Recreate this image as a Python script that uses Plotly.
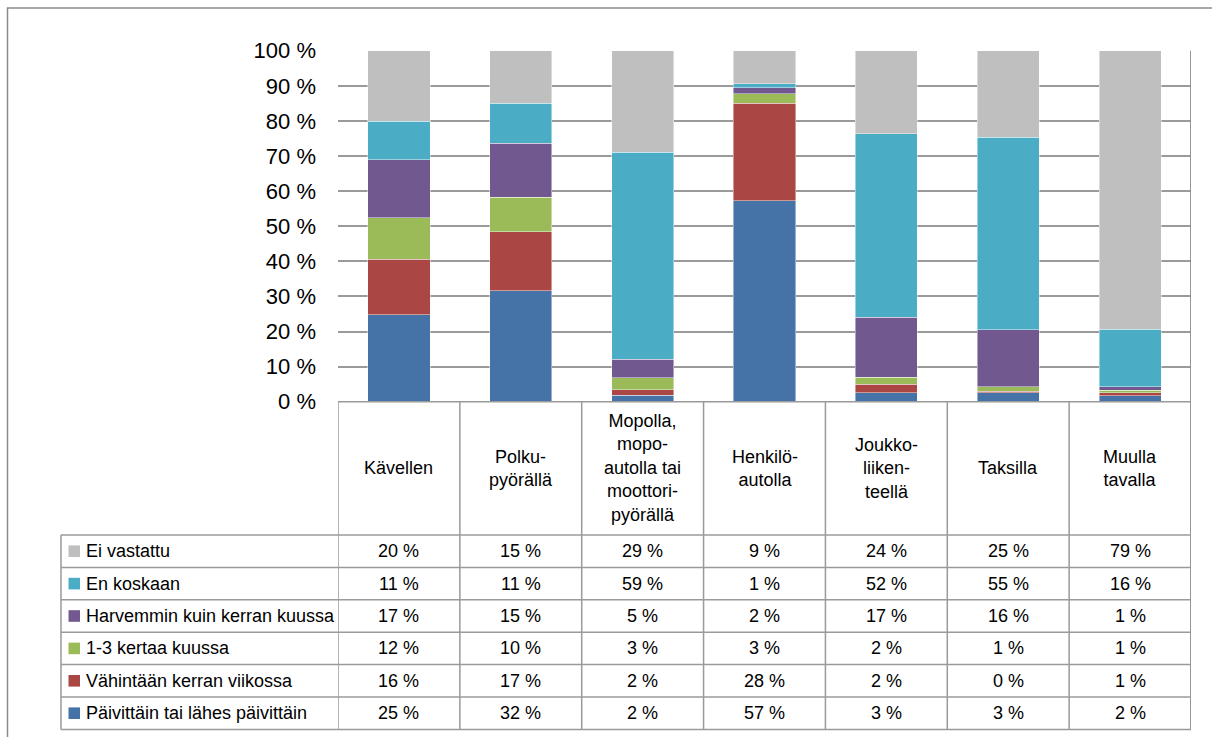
import plotly.graph_objects as go

categories = [
    "Kävellen",
    "Polku-\npyörällä",
    "Mopolla,\nmopo-\nautolla tai\nmoottori-\npyörällä",
    "Henkilö-\nautolla",
    "Joukko-\nliiken-\nteellä",
    "Taksilla",
    "Muulla\ntavalla",
]

# stacked bottom -> top
series_names = [
    "Päivittäin tai lähes päivittäin",
    "Vähintään kerran viikossa",
    "1-3 kertaa kuussa",
    "Harvemmin kuin kerran kuussa",
    "En koskaan",
    "Ei vastattu",
]
paivittain = [24.8, 31.6, 1.8, 57.2, 2.6, 2.6, 1.7]
vahintaan_viikossa = [15.8, 16.8, 1.6, 27.8, 2.3, 0.4, 0.8]
kertaa_1_3 = [11.8, 9.9, 3.4, 2.7, 2.0, 1.3, 0.8]
harvemmin = [16.6, 15.4, 5.3, 1.7, 17.2, 16.2, 0.9]
en_koskaan = [10.9, 11.3, 58.9, 1.2, 52.3, 54.9, 16.4]
ei_vastattu = [20.1, 15.0, 29.0, 9.4, 23.6, 24.6, 79.4]
series_values = [paivittain, vahintaan_viikossa, kertaa_1_3, harvemmin, en_koskaan, ei_vastattu]
series_colors = ["#4572A7", "#AA4643", "#9BBB59", "#71588F", "#4BACC6", "#BFBFBF"]

tick_values = [0, 10, 20, 30, 40, 50, 60, 70, 80, 90, 100]
tick_labels = [f"{v} %" for v in tick_values]

W, H = 1212, 737
FONT = "Liberation Sans, Arial, sans-serif"
GRID = "#9a9a9a"

def px(x):
    return x / W

def py(y):
    return 1 - y / H

plot_left, plot_right = 338, 1191
plot_top, plot_bottom = 50.7, 401.7
header_bottom = 535
row_h = 32.4
table_left = 61

xs = list(range(len(categories)))
fig = go.Figure()
for name, vals, col in zip(series_names, series_values, series_colors):
    fig.add_trace(go.Bar(
        x=xs, y=vals, name=name, marker_color=col,
        marker_line=dict(color="rgba(255,255,255,0.55)", width=0.8),
        showlegend=False,
    ))

shapes = []
annotations = []

# outer frame
shapes.append(dict(type="rect", xref="paper", yref="paper",
                   x0=px(7.5), x1=px(W + 20), y0=py(8), y1=py(H + 20),
                   line=dict(color="#8a8a8a", width=1.5), layer="below"))

# right edge of plot and table
shapes.append(dict(type="line", xref="x", yref="paper", x0=len(categories) - 0.5, x1=len(categories) - 0.5,
                   y0=py(plot_top), y1=py(header_bottom + 6 * row_h),
                   line=dict(color="#8c8c8c", width=1.8)))

# table vertical lines at category boundaries
for k in range(len(categories)):
    shapes.append(dict(type="line", xref="x", yref="paper", x0=k - 0.5, x1=k - 0.5,
                       y0=py(plot_bottom), y1=py(header_bottom + 6 * row_h),
                       line=dict(color=GRID, width=1.5)))
# left border of label column
shapes.append(dict(type="line", xref="paper", yref="paper", x0=px(table_left), x1=px(table_left),
                   y0=py(header_bottom), y1=py(header_bottom + 6 * row_h),
                   line=dict(color=GRID, width=1.5)))
# table top line
shapes.append(dict(type="line", xref="paper", yref="paper", x0=px(plot_left), x1=px(plot_right),
                   y0=py(plot_bottom), y1=py(plot_bottom),
                   line=dict(color=GRID, width=1.5)))
# row lines
for r in range(7):
    yy = header_bottom + r * row_h
    shapes.append(dict(type="line", xref="paper", yref="paper", x0=px(table_left), x1=px(plot_right),
                       y0=py(yy), y1=py(yy), line=dict(color=GRID, width=1.5)))

# header labels
for i, c in enumerate(categories):
    annotations.append(dict(x=i, y=py((plot_bottom + header_bottom) / 2), xref="x", yref="paper",
                            text=c.replace("\n", "<br>"), showarrow=False, align="center",
                            xanchor="center", yanchor="middle",
                            font=dict(family=FONT, size=18, color="#000")))

# table rows (top row = top of stack)
for r, idx in enumerate(reversed(range(len(series_names)))):
    yc = header_bottom + (r + 0.5) * row_h
    shapes.append(dict(type="rect", xref="paper", yref="paper",
                       x0=px(68.5), x1=px(80), y0=py(yc - 5.8), y1=py(yc + 5.8),
                       fillcolor=series_colors[idx], line=dict(width=0)))
    annotations.append(dict(x=px(84), y=py(yc), xref="paper", yref="paper",
                            text=series_names[idx], showarrow=False,
                            xanchor="left", yanchor="middle",
                            font=dict(family=FONT, size=18, color="#000")))
    for i, v in enumerate(series_values[idx]):
        annotations.append(dict(x=i, y=py(yc), xref="x", yref="paper",
                                text=f"{v:.0f} %", showarrow=False,
                                xanchor="center", yanchor="middle",
                                font=dict(family=FONT, size=18, color="#000")))

fig.update_layout(
    width=W, height=H, autosize=False,
    margin=dict(l=0, r=0, t=0, b=0, pad=0, autoexpand=False),
    paper_bgcolor="white", plot_bgcolor="white",
    barmode="stack", bargap=0.49,
    font=dict(family=FONT, color="#000"),
    xaxis=dict(domain=[px(plot_left), px(plot_right)], range=[-0.5, len(categories) - 0.5],
               showticklabels=False, showgrid=False, zeroline=False, showline=False, ticks="",
               automargin=False),
    yaxis=dict(domain=[py(plot_bottom), py(plot_top)], range=[0, 100],
               tickvals=tick_values, ticktext=tick_labels,
               tickfont=dict(family=FONT, size=22, color="#000"),
               showgrid=True, gridcolor=GRID, gridwidth=1.5, zeroline=False,
               showline=False, ticks="", ticklabelstandoff=21, automargin=False),
    shapes=shapes,
    annotations=annotations,
)

fig.write_html("out.html", config={"displayModeBar": False},
               post_script="document.body.style.margin='0';document.body.style.padding='0';")
